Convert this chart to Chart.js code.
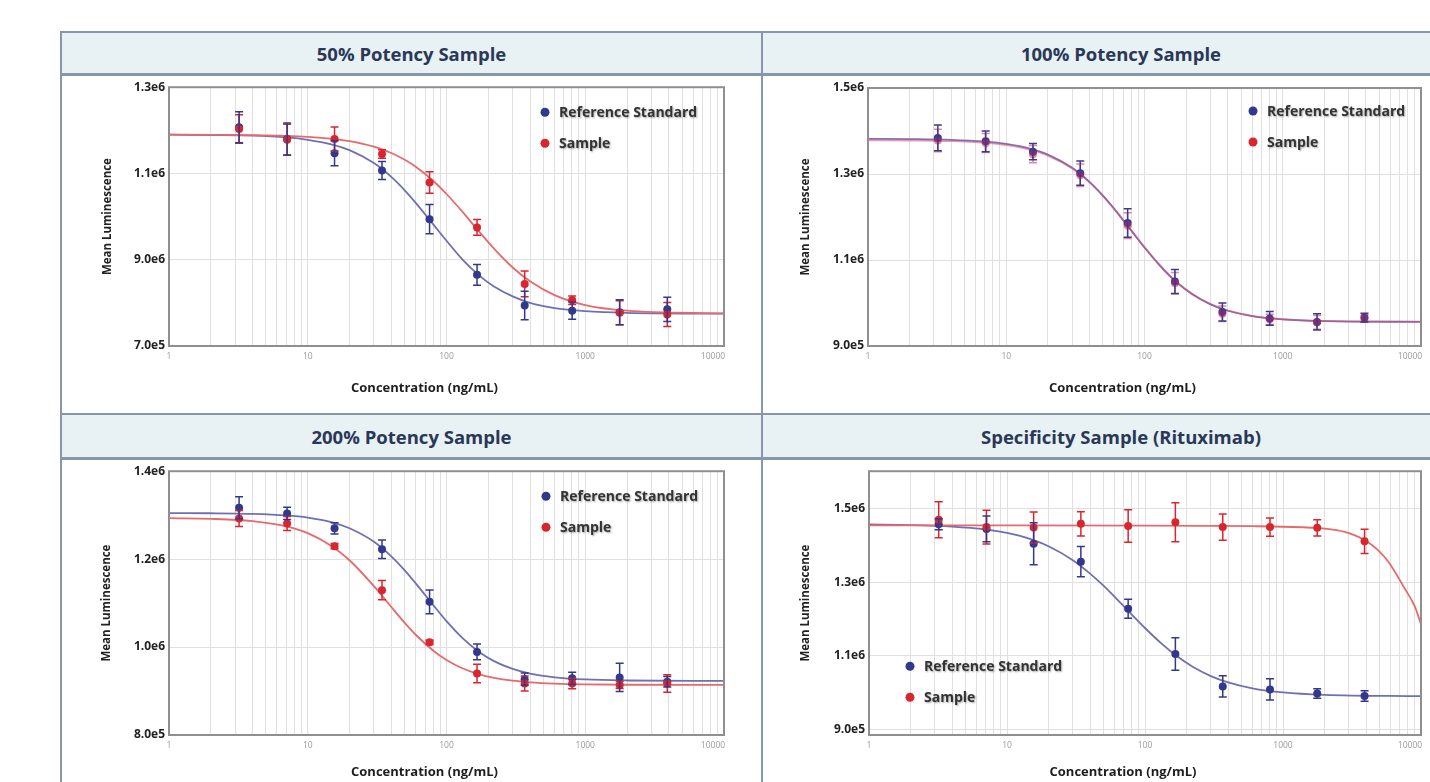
<!DOCTYPE html>
<html>
<head>
<meta charset="utf-8">
<title>Potency curves</title>
<script src="https://cdn.jsdelivr.net/npm/chart.js@4.4.1/dist/chart.umd.min.js"></script>
<style>
  html, body { margin: 0; padding: 0; background: #fff; width: 1430px; height: 782px; overflow: hidden; }
  .head {
    position: absolute; box-sizing: border-box; background: #e8f1f4;
    border: 2px solid #8796a9; border-bottom-width: 3px;
    display: flex; align-items: center; justify-content: center;
    font: 700 18.5px "Open Sans", sans-serif; color: #2a3858;
  }
  .vline { position: absolute; width: 2px; background: #8796a9; }
  .cell { position: absolute; }
</style>
</head>
<body>
<div class="head" style="left:60px;top:31px;width:703px;height:45px">50% Potency Sample</div>
<div class="head" style="left:761px;top:31px;width:720px;height:45px">100% Potency Sample</div>
<div class="head" style="left:60px;top:413px;width:703px;height:47px">200% Potency Sample</div>
<div class="head" style="left:761px;top:413px;width:720px;height:47px">Specificity Sample (Rituximab)</div>
<div class="vline" style="left:60px;top:76px;height:337px"></div>
<div class="vline" style="left:761px;top:76px;height:337px"></div>
<div class="vline" style="left:60px;top:460px;height:322px"></div>
<div class="vline" style="left:761px;top:460px;height:322px"></div>

<div class="cell" style="left:62px;top:76px;width:699px;height:337px"><canvas id="c1"></canvas></div>
<div class="cell" style="left:763px;top:76px;width:700px;height:337px"><canvas id="c2"></canvas></div>
<div class="cell" style="left:62px;top:460px;width:699px;height:322px"><canvas id="c3"></canvas></div>
<div class="cell" style="left:763px;top:460px;width:700px;height:322px"><canvas id="c4"></canvas></div>

<script>
// concentrations of the dilution series (ng/mL)
const conc = [3.2, 7.1, 15.6, 34.3, 75.5, 166, 366, 805, 1770, 3900]
const fitConc = [1, 2, 4, 7, 10, 15, 20, 30, 40, 50, 60, 80, 100, 130, 170, 220, 300, 400, 600, 1000, 2000, 10000]

const xMinorTicks = [1, 2, 3, 4, 5, 6, 7, 8, 9, 10, 20, 30, 40, 50, 60, 70, 80, 90, 100, 200, 300, 400, 500, 600, 700, 800, 900, 1000, 2000, 3000, 4000, 5000, 6000, 7000, 8000, 9000, 10000]
const xTickLabels = ["1", "10", "100", "1000", "10000"]

// 50% potency
const p50Ticks = [7e5, 9e5, 1.1e6, 1.3e6]
const p50TickLabels = ["7.0e5", "9.0e6", "1.1e6", "1.3e6"]
const p50RefMean = [1.207e6, 1.18e6, 1.147e6, 1.107e6, 9.94e5, 8.65e5, 7.94e5, 7.82e5, 7.78e5, 7.85e5]
const p50RefErr = [3.6e4, 3.7e4, 2.9e4, 2.1e4, 3.4e4, 2.4e4, 3.3e4, 2.0e4, 2.9e4, 2.8e4]
const p50SampleMean = [1.203e6, 1.178e6, 1.18e6, 1.145e6, 1.079e6, 9.75e5, 8.44e5, 8.06e5, 7.77e5, 7.73e5]
const p50SampleErr = [3.3e4, 3.6e4, 2.8e4, 1.0e4, 2.5e4, 1.8e4, 3.0e4, 1.0e4, 2.8e4, 2.8e4]
const p50RefFit = [1.19e6, 1.189e6, 1.1875e6, 1.1835e6, 1.178e6, 1.167e6, 1.154e6, 1.124e6, 1.092e6, 1.061e6, 1.032e6, 9.825e5, 9.44e5, 9.01e5, 8.65e5, 8.38e5, 8.15e5, 8.0e5, 7.88e5, 7.81e5, 7.77e5, 7.75e5]
const p50SampleFit = [1.19e6, 1.1896e6, 1.1888e6, 1.1871e6, 1.1849e6, 1.1803e6, 1.1749e6, 1.162e6, 1.1474e6, 1.1317e6, 1.1155e6, 1.0831e6, 1.0524e6, 1.0115e6, 9.67e5, 9.26e5, 8.82e5, 8.5e5, 8.18e5, 7.95e5, 7.82e5, 7.755e5]

// 100% potency
const p100Ticks = [9e5, 1.1e6, 1.3e6, 1.5e6]
const p100TickLabels = ["9.0e5", "1.1e6", "1.3e6", "1.5e6"]
const p100RefMean = [1.384e6, 1.376e6, 1.352e6, 1.302e6, 1.186e6, 1.05e6, 9.79e5, 9.64e5, 9.56e5, 9.66e5]
const p100RefErr = [3.0e4, 2.4e4, 1.9e4, 2.8e4, 3.3e4, 2.8e4, 2.1e4, 1.6e4, 1.9e4, 1.0e4]
const p100SampleMean = [1.378e6, 1.372e6, 1.346e6, 1.297e6, 1.18e6, 1.046e6, 9.75e5, 9.62e5, 9.55e5, 9.64e5]
const p100SampleErr = [2.6e4, 2.2e4, 2.0e4, 2.6e4, 3.0e4, 2.5e4, 1.8e4, 1.2e4, 1.6e4, 0.8e4]
const p100RefFit = [1.3817e6, 1.3811e6, 1.3794e6, 1.3752e6, 1.3699e6, 1.3586e6, 1.3452e6, 1.3143e6, 1.2817e6, 1.2499e6, 1.2201e6, 1.169e6, 1.129e6, 1.0859e6, 1.0484e6, 1.0208e6, 9.967e5, 9.82e5, 9.695e5, 9.618e5, 9.578e5, 9.561e5]
const p100SampleFit = [1.3785e6, 1.3779e6, 1.3763e6, 1.3722e6, 1.367e6, 1.356e6, 1.3428e6, 1.3125e6, 1.2805e6, 1.2492e6, 1.2198e6, 1.1695e6, 1.13e6, 1.0875e6, 1.05e6, 1.0222e6, 9.977e5, 9.828e5, 9.7e5, 9.622e5, 9.582e5, 9.565e5]

// 200% potency
const p200Ticks = [8e5, 1e6, 1.2e6, 1.4e6]
const p200TickLabels = ["8.0e5", "1.0e6", "1.2e6", "1.4e6"]
const p200RefMean = [1.317e6, 1.304e6, 1.27e6, 1.2227e6, 1.103e6, 9.89e5, 9.27e5, 9.29e5, 9.31e5, 9.21e5]
const p200RefErr = [2.5e4, 1.4e4, 1.3e4, 2.1e4, 2.7e4, 1.8e4, 1.4e4, 1.4e4, 3.2e4, 1.2e4]
const p200SampleMean = [1.2925e6, 1.281e6, 1.2295e6, 1.1295e6, 1.0107e6, 9.4e5, 9.17e5, 9.17e5, 9.14e5, 9.17e5]
const p200SampleErr = [1.8e4, 1.6e4, 6e3, 2.2e4, 5e3, 2.1e4, 1.7e4, 1.2e4, 8e3, 2.0e4]
const p200RefFit = [1.3048e6, 1.3044e6, 1.3029e6, 1.2993e6, 1.2943e6, 1.2836e6, 1.2702e6, 1.2395e6, 1.2064e6, 1.1744e6, 1.1449e6, 1.096e6, 1.059e6, 1.021e6, 9.901e5, 9.681e5, 9.502e5, 9.397e5, 9.313e5, 9.263e5, 9.24e5, 9.23e5]
const p200SampleFit = [1.2933e6, 1.2917e6, 1.2864e6, 1.2744e6, 1.259e6, 1.229e6, 1.1975e6, 1.1385e6, 1.0911e6, 1.055e6, 1.028e6, 9.923e5, 9.706e5, 9.519e5, 9.387e5, 9.301e5, 9.235e5, 9.198e5, 9.169e5, 9.152e5, 9.143e5, 9.14e5]

// specificity (rituximab)
const specTicks = [9e5, 1.1e6, 1.3e6, 1.5e6]
const specTickLabels = ["9.0e5", "1.1e6", "1.3e6", "1.5e6"]
const specRefMean = [1.458e6, 1.445e6, 1.405e6, 1.356e6, 1.228e6, 1.105e6, 1.017e6, 1.009e6, 9.98e5, 9.91e5]
const specRefErr = [1.5e4, 3.5e4, 5.7e4, 4.1e4, 2.6e4, 4.4e4, 2.9e4, 2.9e4, 1.3e4, 1.4e4]
const specSampleMean = [1.47e6, 1.45e6, 1.449e6, 1.459e6, 1.453e6, 1.463e6, 1.45e6, 1.45e6, 1.448e6, 1.4115e6]
const specSampleErr = [4.9e4, 4.6e4, 4.2e4, 3.3e4, 4.4e4, 5.3e4, 3.6e4, 2.5e4, 2.2e4, 3.3e4]
const specRefFit = [1.4571e6, 1.4556e6, 1.4514e6, 1.4435e6, 1.4341e6, 1.4168e6, 1.3981e6, 1.3602e6, 1.3237e6, 1.2909e6, 1.2614e6, 1.213e6, 1.1758e6, 1.1354e6, 1.0995e6, 1.0712e6, 1.0452e6, 1.028e6, 1.0119e6, 1.0007e6, 9.94e5, 9.904e5]
const specSampleFitConc = [1, 10, 100, 300, 600, 1000, 2000, 2800, 3900, 4900, 5800, 7600, 9000, 10000]
const specSampleFit = [1.4545e6, 1.4545e6, 1.4543e6, 1.4535e6, 1.4525e6, 1.451e6, 1.446e6, 1.437e6, 1.415e6, 1.387e6, 1.356e6, 1.284e6, 1.235e6, 1.186e6]

const FONT = "'Open Sans', sans-serif"
const BLUE = "#33398a"
const BLUE_LINE = "#6f70b3"
const RED = "#d8262f"
const RED_LINE = "#e66a6d"

const pts = (xs, ys) => xs.map((x, i) => ({ x, y: ys[i] }))

// vertical error bars for datasets carrying an `errors` array
const errorBars = {
  id: "errorBars",
  afterDatasetsDraw(chart) {
    const { ctx, scales } = chart
    chart.data.datasets.forEach((ds) => {
      if (!ds.errors) return
      ctx.save()
      ctx.strokeStyle = ds.pointBackgroundColor
      ctx.lineWidth = 1.5
      ds.data.forEach((p, i) => {
        const px = scales.x.getPixelForValue(p.x)
        const top = scales.y.getPixelForValue(p.y + ds.errors[i])
        const bot = scales.y.getPixelForValue(p.y - ds.errors[i])
        ctx.beginPath()
        ctx.moveTo(px, top); ctx.lineTo(px, bot)
        ctx.moveTo(px - 4, top); ctx.lineTo(px + 4, top)
        ctx.moveTo(px - 4, bot); ctx.lineTo(px + 4, bot)
        ctx.stroke()
      })
      ctx.restore()
    })
  },
}

// frame round the plot, legend inside it, x title
const decorations = {
  id: "decorations",
  afterDraw(chart, args, opts) {
    const { ctx, chartArea: a } = chart
    ctx.save()
    ctx.strokeStyle = "#8f8f8f"
    ctx.lineWidth = 2
    ctx.strokeRect(a.left, a.top, a.right - a.left, a.bottom - a.top)

    ctx.font = `700 13px ${FONT}`
    ctx.fillStyle = "#1e1e1e"
    ctx.textAlign = "center"
    ctx.textBaseline = "middle"
    ctx.fillText("Concentration (ng/mL)", (a.left + a.right) / 2 - 22, opts.xTitleY)

    ctx.textAlign = "left"
    ctx.font = `700 14px ${FONT}`
    let y = a.top + opts.legendDy
    const x = a.left + opts.legendDx
    opts.legend.forEach((item) => {
      ctx.fillStyle = item.color
      ctx.beginPath()
      ctx.arc(x, y, 4.5, 0, Math.PI * 2)
      ctx.fill()
      ctx.shadowColor = "rgba(0,0,0,0.35)"
      ctx.shadowBlur = 2
      ctx.shadowOffsetX = 1
      ctx.shadowOffsetY = 1
      ctx.fillStyle = "#333"
      ctx.fillText(item.text, x + 14, y + 1)
      ctx.shadowColor = "transparent"
      y += 31
    })
    ctx.restore()
  },
}

function makeChart(id, cfg) {
  const refColor = cfg.refColor || BLUE
  const sampleColor = cfg.sampleColor || RED
  const datasets = [
    { label: "Sample", data: pts(conc, cfg.sampleMean), errors: cfg.sampleErr, showLine: false,
      pointRadius: 4, pointBackgroundColor: sampleColor, pointBorderWidth: 0, order: 0 },
    { label: "Reference Standard", data: pts(conc, cfg.refMean), errors: cfg.refErr, showLine: false,
      pointRadius: 4, pointBackgroundColor: refColor, pointBorderWidth: 0, order: 1 },
    { label: "Sample fit", data: pts(cfg.sampleFitConc || fitConc, cfg.sampleFit), borderColor: cfg.sampleLine || RED_LINE,
      borderWidth: 1.8, pointRadius: 0, cubicInterpolationMode: "monotone", order: 2 },
    { label: "Reference fit", data: pts(fitConc, cfg.refFit), borderColor: cfg.refLine || BLUE_LINE,
      borderWidth: 1.8, pointRadius: 0, cubicInterpolationMode: "monotone", order: 3 },
  ]

  new Chart(document.getElementById(id), {
    type: "line",
    data: { datasets },
    plugins: [errorBars, decorations],
    options: {
      responsive: true,
      maintainAspectRatio: false,
      animation: false,
      layout: { padding: { top: cfg.padTop, right: cfg.padRight, left: 0, bottom: 0 } },
      plugins: {
        legend: { display: false },
        tooltip: { enabled: false },
        decorations: {
          xTitleY: cfg.xTitleY,
          legendDx: cfg.legendDx,
          legendDy: cfg.legendDy,
          legend: [
            { text: "Reference Standard", color: BLUE },
            { text: "Sample", color: RED },
          ],
        },
      },
      scales: {
        x: {
          type: "logarithmic",
          min: 1,
          max: 10000,
          afterBuildTicks: (s) => { s.ticks = xMinorTicks.map((v) => ({ value: v })) },
          afterFit: (s) => { s.height = cfg.xHeight },
          grid: { color: "#e0e0e0", lineWidth: 1, drawTicks: false },
          border: { display: false },
          ticks: {
            autoSkip: false,
            maxRotation: 0,
            padding: 5,
            color: "#9a9a9a",
            font: { size: 8.5, family: FONT },
            // the last label sits inside the frame, as in the original
            callback: (v) => {
              const s = String(v)
              if (!xTickLabels.includes(s)) return ""
              return s === "10000" ? s + "          " : s
            },
          },
        },
        y: {
          min: cfg.yMin,
          max: cfg.yMax,
          afterBuildTicks: (s) => { s.ticks = cfg.yTicks.map((v) => ({ value: v })) },
          afterFit: (s) => { s.width = cfg.yWidth },
          grid: { color: "#e0e0e0", lineWidth: 1, drawTicks: false },
          border: { display: false },
          ticks: {
            padding: 4,
            color: "#222",
            font: { size: 12, weight: "bold", family: FONT },
            callback: (v, i) => cfg.yLabels[i],
          },
          title: {
            display: true,
            text: "Mean Luminescence",
            color: "#222",
            font: { size: 11.5, weight: "bold", family: FONT },
            padding: { top: cfg.yTitlePad, bottom: 0 },
          },
        },
      },
    },
  })
}

makeChart("c1", {
  refMean: p50RefMean, refErr: p50RefErr, sampleMean: p50SampleMean, sampleErr: p50SampleErr,
  refFit: p50RefFit, sampleFit: p50SampleFit,
  yMin: 7e5, yMax: 1.3e6, yTicks: p50Ticks, yLabels: p50TickLabels,
  padTop: 10, padRight: 37, yWidth: 107, xHeight: 67, yTitlePad: 39, xTitleY: 312,
  legendDx: 376, legendDy: 25,
})

makeChart("c2", {
  refMean: p100RefMean, refErr: p100RefErr, sampleMean: p100SampleMean, sampleErr: p100SampleErr,
  refFit: p100RefFit, sampleFit: p100SampleFit,
  refColor: "#3d3a8c", sampleColor: "rgba(190,40,90,0.55)",
  refLine: "#7f70b8", sampleLine: "rgba(200,80,120,0.55)",
  yMin: 9e5, yMax: 1.5e6, yTicks: p100Ticks, yLabels: p100TickLabels,
  padTop: 12, padRight: 42, yWidth: 105, xHeight: 67, yTitlePad: 36, xTitleY: 312,
  legendDx: 385, legendDy: 23,
})

makeChart("c3", {
  refMean: p200RefMean, refErr: p200RefErr, sampleMean: p200SampleMean, sampleErr: p200SampleErr,
  refFit: p200RefFit, sampleFit: p200SampleFit,
  yMin: 8e5, yMax: 1.4e6, yTicks: p200Ticks, yLabels: p200TickLabels,
  padTop: 11, padRight: 37, yWidth: 107, xHeight: 47, yTitlePad: 38, xTitleY: 312,
  legendDx: 377, legendDy: 25,
})

makeChart("c4", {
  refMean: specRefMean, refErr: specRefErr, sampleMean: specSampleMean, sampleErr: specSampleErr,
  refFit: specRefFit, sampleFit: specSampleFit, sampleFitConc: specSampleFitConc,
  yMin: 8.85e5, yMax: 1.602e6, yTicks: specTicks, yLabels: specTickLabels,
  padTop: 11, padRight: 42, yWidth: 106, xHeight: 47, yTitlePad: 36, xTitleY: 312,
  legendDx: 41, legendDy: 195,
})
</script>
</body>
</html>
